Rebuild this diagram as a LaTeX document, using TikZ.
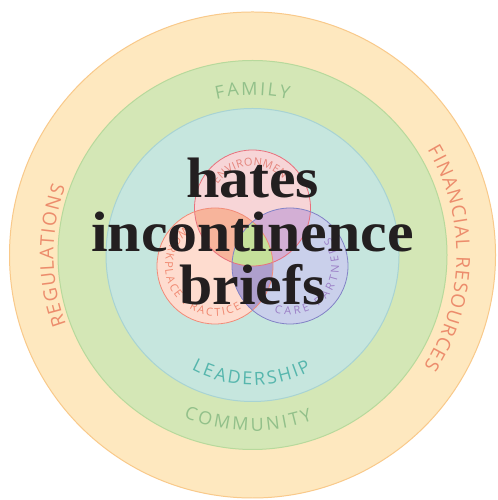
\documentclass[tikz,border=0pt]{standalone}
\usepackage{fontspec}
\usepackage{graphicx}
\setmainfont{Liberation Serif}
\newfontfamily\labfont{Open Sans}
\usetikzlibrary{decorations.text}
\definecolor{outerfill}{HTML}{FEE8BF}
\definecolor{outeredge}{HTML}{F9C98A}
\definecolor{greenfill}{HTML}{D4E7B6}
\definecolor{greenedge}{HTML}{B7D99C}
\definecolor{tealfill}{HTML}{C6E6DE}
\definecolor{tealedge}{HTML}{A8D3D3}
\definecolor{topfill}{HTML}{F7D5D7}
\definecolor{topedge}{HTML}{E9707C}
\definecolor{leftfill}{HTML}{FEDCCF}
\definecolor{leftedge}{HTML}{F28B78}
\definecolor{rightfill}{HTML}{CAD0EB}
\definecolor{rightedge}{HTML}{8282C6}
\definecolor{tlfill}{HTML}{F7B49B}
\definecolor{trfill}{HTML}{D3AFD5}
\definecolor{lrfill}{HTML}{AE9FCD}
\definecolor{cenfill}{HTML}{C5E09A}
\definecolor{famc}{HTML}{92C08A}
\definecolor{leadc}{HTML}{56B6AD}
\definecolor{outc}{HTML}{EC8C6C}
\definecolor{envc}{HTML}{E4847C}
\definecolor{workc}{HTML}{F08870}
\definecolor{carec}{HTML}{9B7FC6}
\definecolor{ink}{HTML}{231F20}
\newcommand\bigtxt{\fontsize{57bp}{57bp}\selectfont\bfseries\color{ink}}
\newcommand\famfmt{\labfont\fontsize{18bp}{20bp}\selectfont\color{famc}}
\newcommand\leadfmt{\labfont\fontsize{18bp}{20bp}\selectfont\color{leadc}}
\newcommand\outfmt{\labfont\fontsize{19bp}{21bp}\selectfont\color{outc}}
\newcommand\envfmt{\labfont\fontsize{11bp}{13bp}\selectfont\color{envc}}
\newcommand\workfmt{\labfont\fontsize{11bp}{13bp}\selectfont\color{workc}}
\newcommand\carefmt{\labfont\fontsize{11bp}{13bp}\selectfont\color{carec}}
\tikzset{
  ringtext/.style={decorate, decoration={text along path, text={#1}, text align={fit to path}}},
  bigline/.style={anchor=base, inner sep=0pt, font=\bigtxt}
}
\begin{document}
\begin{tikzpicture}[x=1bp,y=1bp]
\useasboundingbox (0,0) rectangle (498,500);
\fill[white] (0,0) rectangle (498,500);
\coordinate (C) at (252.5,245);
\coordinate (T) at (252.5,292);
\coordinate (L) at (215,234);
\coordinate (R) at (290,234);
% rings
\filldraw[fill=outerfill, draw=outeredge, line width=1] (C) circle[radius=243];
\filldraw[fill=greenfill, draw=greenedge, line width=1] (C) circle[radius=194.5];
\filldraw[fill=tealfill, draw=tealedge, line width=1] (C) circle[radius=146.5];
% venn fills
\fill[topfill] (T) circle[radius=58];
\fill[leftfill] (L) circle[radius=58];
\fill[rightfill] (R) circle[radius=58];
\begin{scope}
  \clip (T) circle[radius=58];
  \fill[tlfill] (L) circle[radius=58];
  \fill[trfill] (R) circle[radius=58];
\end{scope}
\begin{scope}
  \clip (L) circle[radius=58];
  \fill[lrfill] (R) circle[radius=58];
\end{scope}
\begin{scope}
  \clip (T) circle[radius=58];
  \clip (L) circle[radius=58];
  \fill[cenfill] (R) circle[radius=58];
\end{scope}
\draw[topedge, line width=0.8] (T) circle[radius=58];
\draw[leftedge, line width=0.8] (L) circle[radius=58];
\draw[rightedge, line width=0.8] (R) circle[radius=58];
% ring labels
\path[ringtext={|\famfmt|FAMILY}] (C) ++(103:160) arc[start angle=103, end angle=77, radius=160];
\path[ringtext={|\famfmt|COMMUNITY}] (C) ++(247:176) arc[start angle=247, end angle=290, radius=176];
\path[ringtext={|\leadfmt|LEADERSHIP}] (C) ++(242:130) arc[start angle=242, end angle=297, radius=130];
\path[ringtext={|\outfmt|REGULATIONS}] (C) ++(200.5:199) arc[start angle=200.5, end angle=160, radius=199];
\path[ringtext={|\outfmt|FINANCIAL RESOURCES}] (C) ++(31:204) arc[start angle=31, end angle=-33, radius=204];
% venn labels
\path[ringtext={|\envfmt|ENVIRONMENT}] (T) ++(146:42) arc[start angle=146, end angle=34, radius=42];
\path[ringtext={|\workfmt|WORKPLACE PRACTICE}] (L) ++(128:50) arc[start angle=128, end angle=302, radius=50];
\path[ringtext={|\carefmt|CARE PARTNERS}] (R) ++(251:49) arc[start angle=251, end angle=395, radius=49];
% big text
\node[bigline] (l1) at (252.5,302) {\scalebox{1.05}[1]{hates}};
\node[bigline] (l2) at (252.5,248) {\scalebox{1.05}[1]{incontinence}};
\node[bigline] (l3) at (252.5,195) {\scalebox{1.05}[1]{briefs}};
\end{tikzpicture}
\end{document}
